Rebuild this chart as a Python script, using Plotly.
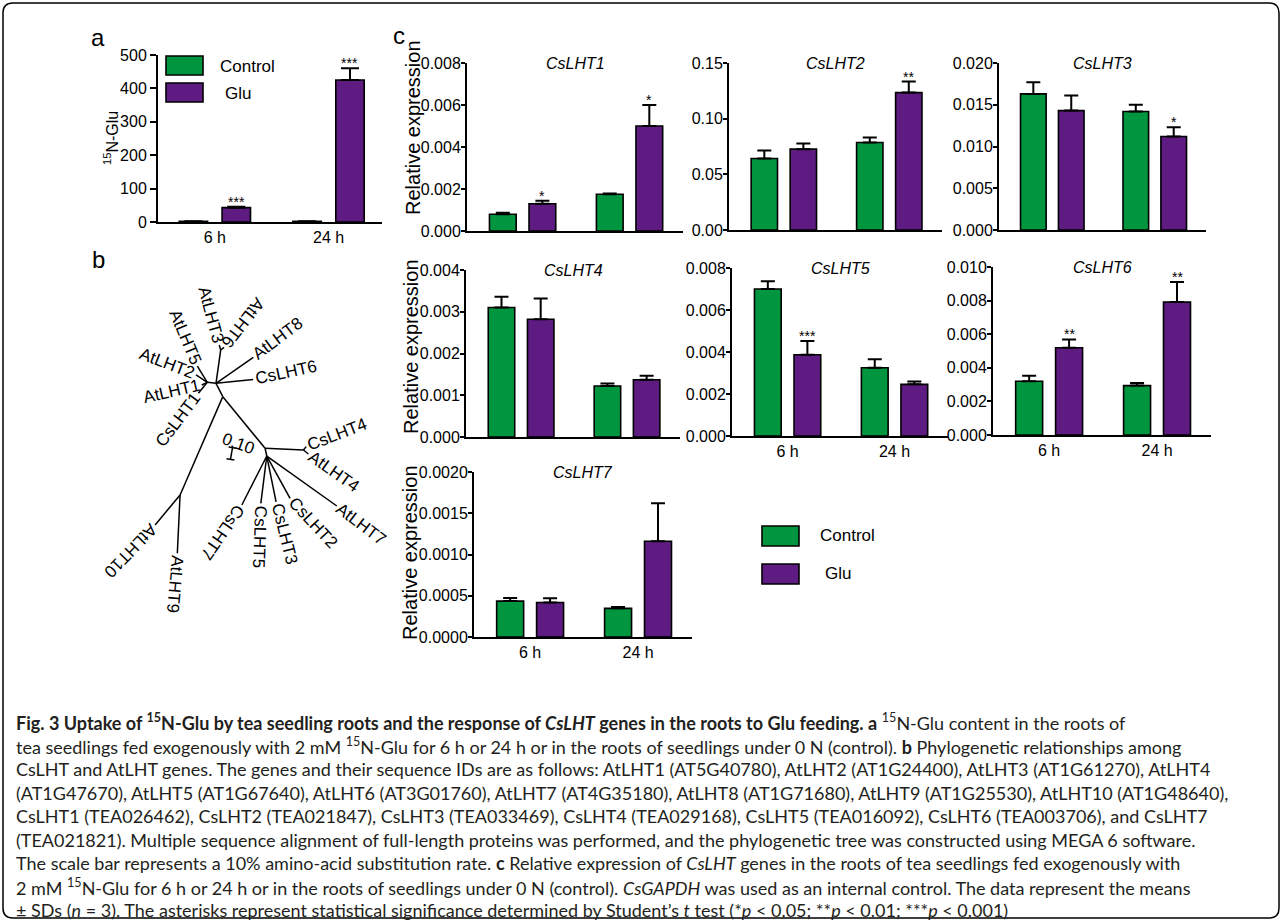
import math
import plotly.graph_objects as go

W, H = 1282, 921
FONT = "Liberation Sans, Arial, sans-serif"
CAP_FONT = "Lato, sans-serif"
GREEN = "#00953F"
PURPLE = "#5E1B82"

CATS = ["6 h", "24 h"]
SERIES = ["Control", "Glu"]

# ---------------- panel a : 15N-Glu content ----------------
A_CONTROL = [2.0, 2.0]
A_CONTROL_SD = [0.4, 0.4]
A_GLU = [43.0, 425.0]
A_GLU_SD = [3.0, 35.0]
A_GLU_SIG = ["***", "***"]

# ---------------- panel c : relative expression ----------------
GENES = ["CsLHT1", "CsLHT2", "CsLHT3", "CsLHT4", "CsLHT5", "CsLHT6", "CsLHT7"]
CONTROL_MEAN = [
    [0.00080, 0.00175],
    [0.0642, 0.0786],
    [0.0163, 0.0142],
    [0.00310, 0.00122],
    [0.00700, 0.00325],
    [0.00320, 0.00294],
    [0.000435, 0.000347],
]
CONTROL_SD = [
    [0.00007, 0.00003],
    [0.0072, 0.0045],
    [0.0014, 0.0008],
    [0.00026, 0.00006],
    [0.00037, 0.00040],
    [0.00032, 0.00016],
    [0.000037, 0.000016],
]
GLU_MEAN = [
    [0.00130, 0.00500],
    [0.0726, 0.1234],
    [0.0143, 0.0112],
    [0.00282, 0.00137],
    [0.00387, 0.00246],
    [0.00519, 0.00791],
    [0.000419, 0.00116],
]
GLU_SD = [
    [0.00014, 0.00100],
    [0.0051, 0.0099],
    [0.0018, 0.0011],
    [0.00050, 0.00010],
    [0.00065, 0.00014],
    [0.00050, 0.00120],
    [0.000050, 0.00046],
]
GLU_SIG = [["*", "*"], ["", "**"], ["", "*"], ["", ""], ["***", ""], ["**", "**"], ["", ""]]
Y_MAX = [0.008, 0.15, 0.020, 0.004, 0.008, 0.010, 0.0020]
Y_DTICK = [0.002, 0.05, 0.005, 0.001, 0.002, 0.002, 0.0005]
Y_FMT = [".3f", ".2f", ".3f", ".3f", ".3f", ".3f", ".4f"]

# ---------------- panel b : phylogenetic tree ----------------
TREE_PARENT = ["N1", "N1", "N1", "N1", "N1", "N2", "N3", "N3", "N2", "N2", "N2", "N4",
               "N6", "N7", "N7", "N6", "N8", "N8", "N8", "N8", "N8", "N4", "N5", "N5"]
TREE_CHILD = ["AtLHT5", "AtLHT2", "AtLHT1", "CsLHT1", "N2", "N3", "AtLHT3", "AtLHT6",
              "AtLHT8", "CsLHT6", "N4", "N6", "N7", "CsLHT4", "AtLHT4", "N8", "AtLHT7",
              "CsLHT2", "CsLHT3", "CsLHT5", "CsLHT7", "N5", "AtLHT10", "AtLHT9"]
BRANCH_LEN = [0.159, 0.112, 0.052, 0.118, 0.073, 0.280, 0.043, 0.036, 0.379, 0.311, 0.125,
              0.556, 0.320, 0.036, 0.053, 0.066, 0.717, 0.403, 0.389, 0.397, 0.458, 0.893,
              0.325, 0.486]
BRANCH_ANGLE = [-121.5, -147, 154, 129, 6.6, -82, -106, -39, -34.9, -6, 63, 50.7, 2.5, -51,
                39, 77.5, 35.5, 61.2, 78.5, 97.2, 117, 113.5, 129.8, 92.7]
LEAF_NAMES = ["AtLHT5", "AtLHT2", "AtLHT1", "CsLHT1", "AtLHT3", "AtLHT6", "AtLHT8", "CsLHT6",
              "CsLHT4", "AtLHT4", "AtLHT7", "CsLHT2", "CsLHT3", "CsLHT5", "CsLHT7", "AtLHT10",
              "AtLHT9"]
LEAF_TEXTANGLE = [67, 21, -13, -53, 75, 128, -37, -12, -21, 35, 37, 47, 76, 92, 125, 134, 95]
LEAF_READ = ["in", "in", "in", "in", "in", "in", "out", "out", "out", "out", "out", "out",
             "out", "out", "out", "out", "out"]
SCALE_BAR = 0.10

CAPTION = [
    "<b>Fig. 3 Uptake of <sup>15</sup>N-Glu by tea seedling roots and the response of <i>CsLHT</i> genes in the roots to Glu feeding. a</b> <sup>15</sup>N-Glu content in the roots of",
    "tea seedlings fed exogenously with 2 mM <sup>15</sup>N-Glu for 6 h or 24 h or in the roots of seedlings under 0 N (control). <b>b</b> Phylogenetic relationships among",
    "CsLHT and AtLHT genes. The genes and their sequence IDs are as follows: AtLHT1 (AT5G40780), AtLHT2 (AT1G24400), AtLHT3 (AT1G61270), AtLHT4",
    "(AT1G47670), AtLHT5 (AT1G67640), AtLHT6 (AT3G01760), AtLHT7 (AT4G35180), AtLHT8 (AT1G71680), AtLHT9 (AT1G25530), AtLHT10 (AT1G48640),",
    "CsLHT1 (TEA026462), CsLHT2 (TEA021847), CsLHT3 (TEA033469), CsLHT4 (TEA029168), CsLHT5 (TEA016092), CsLHT6 (TEA003706), and CsLHT7",
    "(TEA021821). Multiple sequence alignment of full-length proteins was performed, and the phylogenetic tree was constructed using MEGA 6 software.",
    "The scale bar represents a 10% amino-acid substitution rate. <b>c</b> Relative expression of <i>CsLHT</i> genes in the roots of tea seedlings fed exogenously with",
    "2 mM <sup>15</sup>N-Glu for 6 h or 24 h or in the roots of seedlings under 0 N (control). <i>CsGAPDH</i> was used as an internal control. The data represent the means",
    "± SDs (<i>n</i> = 3). The asterisks represent statistical significance determined by Student’s <i>t</i> test (*<i>p</i> < 0.05; **<i>p</i> < 0.01; ***<i>p</i> < 0.001)",
]


def fx(x):
    return x / W


def fy(y):
    return 1 - y / H


fig = go.Figure()
layout = dict(template="none", width=W, height=H, margin=dict(l=0, r=0, t=0, b=0, pad=0),
              paper_bgcolor="white", plot_bgcolor="white", showlegend=False,
              font=dict(family=FONT, color="black", size=16))
annotations = []
shapes = []


def note(**kw):
    kw.setdefault("showarrow", False)
    kw.setdefault("xanchor", "center")
    kw.setdefault("yanchor", "middle")
    annotations.append(kw)


def add_panel(n, dom, xr, ymax, dtick, fmt, ctrl, ctrl_sd, glu, glu_sd, glu_sig,
              show_x, bw, pitch, errw, tlen, tstand):
    xk = "x" if n == 1 else "x%d" % n
    yk = "y" if n == 1 else "y%d" % n
    xs = list(range(len(CATS)))
    offs = [-pitch / 2 - bw / 2, pitch / 2 - bw / 2]
    for s, (mean, sd, col) in enumerate([(ctrl, ctrl_sd, GREEN), (glu, glu_sd, PURPLE)]):
        fig.add_trace(go.Bar(
            x=xs, y=mean, width=bw, offset=offs[s], name=SERIES[s],
            marker=dict(color=col, line=dict(color="black", width=1.6)),
            error_y=dict(type="data", array=sd, arrayminus=[0] * len(sd), symmetric=False,
                         color="black", thickness=2, width=errw),
            xaxis=xk, yaxis=yk, hoverinfo="skip"))
    for i, sig in enumerate(glu_sig):
        if sig:
            note(x=xs[i] + offs[1] + bw / 2, y=glu[i] + glu_sd[i], xref=xk, yref=yk,
                 text=sig, yanchor="bottom", yshift=-5,
                 font=dict(family=FONT, size=14, color="black"))
    x0, x1, y0, y1 = dom
    axk = "xaxis" if n == 1 else "xaxis%d" % n
    ayk = "yaxis" if n == 1 else "yaxis%d" % n
    layout[axk] = dict(domain=[fx(x0), fx(x1)], range=xr, anchor=yk, showline=True,
                       linecolor="black", linewidth=2, ticks="", tickvals=xs, ticktext=CATS,
                       showticklabels=show_x, showgrid=False, zeroline=False, automargin=False,
                       tickfont=dict(family=FONT, size=16, color="black"), fixedrange=True)
    layout[ayk] = dict(domain=[fy(y1), fy(y0)], range=[0, ymax], anchor=xk, showline=True,
                       linecolor="black", linewidth=2, ticks="outside", ticklen=tlen,
                       tickwidth=2, tickcolor="black", tick0=0, dtick=dtick, tickformat=fmt,
                       ticklabelstandoff=tstand,
                       showgrid=False, zeroline=False, automargin=False,
                       tickfont=dict(family=FONT, size=16, color="black"), fixedrange=True)


# panel a
add_panel(1, (158, 382, 55, 222), [-0.5, 1.47], 500, 100, "d", A_CONTROL, A_CONTROL_SD,
          A_GLU, A_GLU_SD, A_GLU_SIG, True, 0.25, 0.377, 9, 6, 0)

# panel c
C_DOM = [(467, 683, 63, 231), (729, 942, 63, 230), (999, 1206, 63, 230),
         (466, 680, 270, 437), (732, 948, 268, 436), (993, 1211, 267, 435),
         (474, 692, 472, 637)]
C_SHOWX = [False, False, False, False, True, True, True]
for g in range(len(GENES)):
    add_panel(g + 2, C_DOM[g], [-0.52, 1.5], Y_MAX[g], Y_DTICK[g], Y_FMT[g],
              CONTROL_MEAN[g], CONTROL_SD[g], GLU_MEAN[g], GLU_SD[g], GLU_SIG[g],
              C_SHOWX[g], 0.25, 0.37, 7, 4, -3)
    note(x=0.5, y=1, xref="x%d domain" % (g + 2), yref="y%d domain" % (g + 2),
         text="<i>%s</i>" % GENES[g], font=dict(family=FONT, size=16, color="black"))

# axis titles
note(x=fx(111), y=fy(138), xref="paper", yref="paper", text="<sup>15</sup>N-Glu",
     textangle=-90, font=dict(family=FONT, size=16, color="black"))
for (xp, yp) in [(413, 128), (411, 347), (410, 553)]:
    note(x=fx(xp), y=fy(yp), xref="paper", yref="paper", text="Relative expression",
         textangle=-90, font=dict(family=FONT, size=20, color="black"))

# panel letters
for (t, xp, yp) in [("a", 98, 37), ("b", 98, 259), ("c", 399, 35)]:
    note(x=fx(xp), y=fy(yp), xref="paper", yref="paper", text=t,
         font=dict(family=FONT, size=24, color="black"))

# legends (panel a and panel c)
LEG = [((166, 56, 75, 218, 66), (166, 83, 102, 223, 93)),
       ((762, 526, 546, 818, 535), (762, 564, 584, 823, 573))]
for pair in LEG:
    for s, (bx, by0, by1, tx, ty) in enumerate(pair):
        shapes.append(dict(type="rect", xref="paper", yref="paper", x0=fx(bx), x1=fx(bx + 37),
                           y0=fy(by1), y1=fy(by0), fillcolor=[GREEN, PURPLE][s],
                           line=dict(color="black", width=1.6)))
        note(x=fx(tx), y=fy(ty), xref="paper", yref="paper", text=SERIES[s], xanchor="left",
             font=dict(family=FONT, size=17, color="black"))

# ---------------- tree ----------------
PXU = 120.0  # pixels per substitution unit
pos = {"N1": (0.0, 0.0)}
for p, c, L, ang in zip(TREE_PARENT, TREE_CHILD, BRANCH_LEN, BRANCH_ANGLE):
    x0, y0 = pos[p]
    a = math.radians(ang)
    pos[c] = (x0 + L * math.cos(a), y0 + L * math.sin(a))
ex, ey = [], []
for p, c in zip(TREE_PARENT, TREE_CHILD):
    ex += [pos[p][0], pos[c][0], None]
    ey += [pos[p][1], pos[c][1], None]
fig.add_trace(go.Scatter(x=ex, y=ey, mode="lines", line=dict(color="black", width=1.5),
                         xaxis="x9", yaxis="y9", hoverinfo="skip"))

AW = {"A": .667, "t": .278, "L": .556, "H": .722, "T": .611, "C": .722, "s": .5}
TREE_FS = 17


def tw(s):
    return sum(AW.get(ch, .556) for ch in s) * TREE_FS


for name, ta, rd in zip(LEAF_NAMES, LEAF_TEXTANGLE, LEAF_READ):
    od = ta if rd == "out" else ta + 180
    d = (2 + tw(name) / 2) / PXU
    a = math.radians(od)
    cx = pos[name][0] + d * math.cos(a)
    cy = pos[name][1] + d * math.sin(a)
    note(x=cx, y=cy, xref="x9", yref="y9", text=name, textangle=ta,
         font=dict(family=FONT, size=TREE_FS, color="black"))

# scale bar
sb_c = ((231.5 - 207.3) / PXU, (453.5 - 382.3) / PXU)
sb_a = math.radians(100)
sx = [sb_c[0] - SCALE_BAR / 2 * math.cos(sb_a), sb_c[0] + SCALE_BAR / 2 * math.cos(sb_a)]
sy = [sb_c[1] - SCALE_BAR / 2 * math.sin(sb_a), sb_c[1] + SCALE_BAR / 2 * math.sin(sb_a)]
cap = 4 / PXU
pa = math.radians(10)
bx, by = [sx[0], sx[1], None], [sy[0], sy[1], None]
for k in range(2):
    bx += [sx[k] - cap * math.cos(pa), sx[k] + cap * math.cos(pa), None]
    by += [sy[k] - cap * math.sin(pa), sy[k] + cap * math.sin(pa), None]
fig.add_trace(go.Scatter(x=bx, y=by, mode="lines", line=dict(color="black", width=1.5),
                         xaxis="x9", yaxis="y9", hoverinfo="skip"))
note(x=(238 - 207.3) / PXU, y=(443 - 382.3) / PXU, xref="x9", yref="y9",
     text="%.2f" % SCALE_BAR, textangle=20, font=dict(family=FONT, size=TREE_FS, color="black"))

layout["xaxis9"] = dict(domain=[fx(90), fx(390)], range=[(90 - 207.3) / PXU, (390 - 207.3) / PXU],
                        visible=False, anchor="y9", fixedrange=True, automargin=False)
layout["yaxis9"] = dict(domain=[fy(700), fy(250)], range=[(700 - 382.3) / PXU, (250 - 382.3) / PXU],
                        visible=False, anchor="x9", fixedrange=True, automargin=False)

# ---------------- caption ----------------
for i, line in enumerate(CAPTION):
    note(x=fx(14), y=fy(722 + 23.5 * i), xref="paper", yref="paper", text=line,
         xanchor="left", font=dict(family=CAP_FONT, size=18, color="#231f20"))

# ---------------- rounded border ----------------
bx0, by0, bx1, by1, r = 3, 3, 1279, 918, 10


def P(x, y):
    return "%.5f,%.5f" % (fx(x), fy(y))


path = ("M" + P(bx0 + r, by0) + " L" + P(bx1 - r, by0) + " Q" + P(bx1, by0) + " " + P(bx1, by0 + r) +
        " L" + P(bx1, by1 - r) + " Q" + P(bx1, by1) + " " + P(bx1 - r, by1) +
        " L" + P(bx0 + r, by1) + " Q" + P(bx0, by1) + " " + P(bx0, by1 - r) +
        " L" + P(bx0, by0 + r) + " Q" + P(bx0, by0) + " " + P(bx0 + r, by0) + " Z")
shapes.append(dict(type="path", xref="paper", yref="paper", path=path,
                   line=dict(color="black", width=1.5)))

layout["annotations"] = annotations
layout["shapes"] = shapes
fig.update_layout(**layout)
fig.write_html("out.html", config={"displayModeBar": False, "staticPlot": True},
               post_script="document.body.style.margin='0';document.body.style.overflow='hidden';")
